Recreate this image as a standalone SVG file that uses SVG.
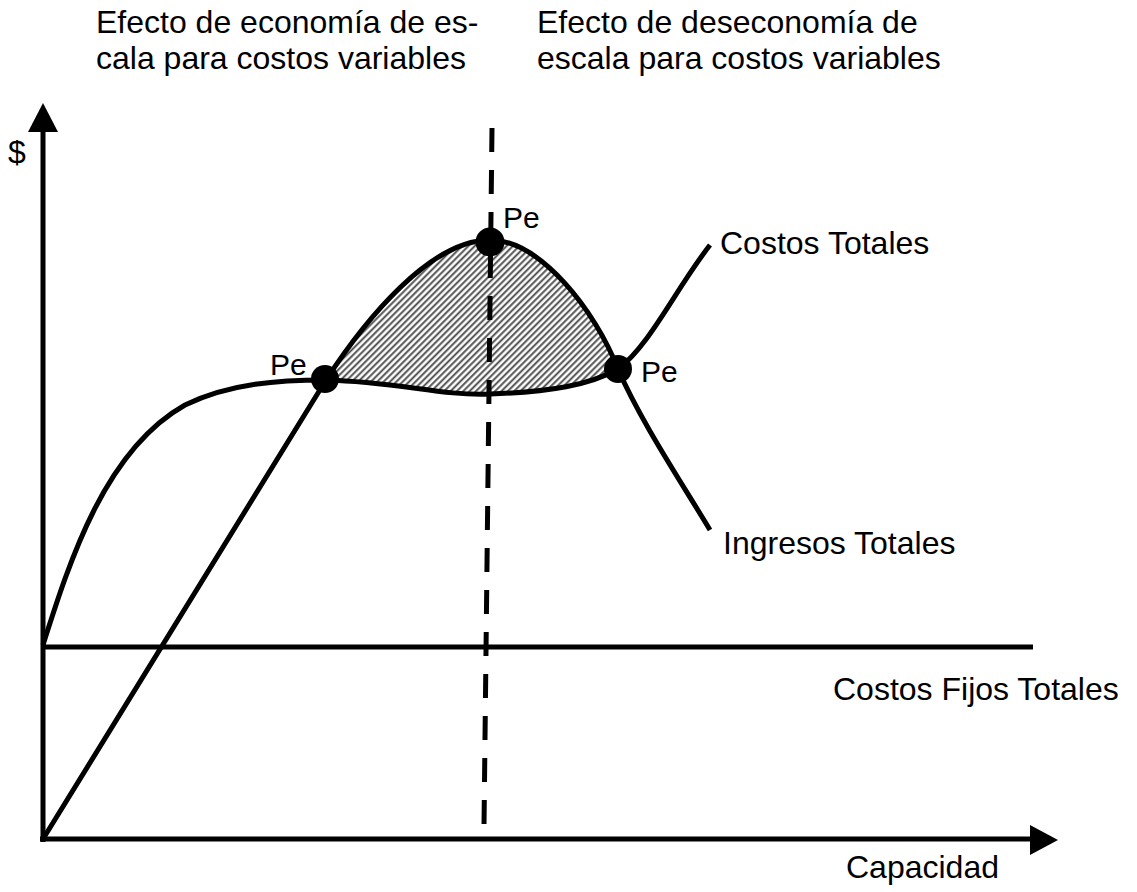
<svg xmlns="http://www.w3.org/2000/svg" width="1137" height="892" viewBox="0 0 1137 892">
<style>
text{font-family:"Liberation Sans",Arial,sans-serif;font-size:32px;fill:#000}
text.pe{font-size:30px}
.ln{fill:none;stroke:#000;stroke-width:5}
.dot{fill:#000}
</style>
<defs>
<pattern id="hatch" patternUnits="userSpaceOnUse" width="4.5" height="4.5" patternTransform="rotate(45)">
<rect width="4.5" height="4.5" fill="#fff"/>
<line x1="1.2" y1="0" x2="1.2" y2="4.5" stroke="#4a4a4a" stroke-width="1.9"/>
</pattern>
</defs>
<rect width="1137" height="892" fill="#fff"/>
<g id="titles">
<text x="96" y="33">Efecto de economía de es-</text>
<text x="96" y="69">cala para costos variables</text>
<text x="537" y="33">Efecto de deseconomía de</text>
<text x="537" y="69">escala para costos variables</text>
</g>
<g id="profit-area">
<path d="M326,380 C365,320 430,240 490,240 C540,240 595,310 618,369 C590,385 550,392 490,394 C440,396 400,382 326,380 Z" fill="url(#hatch)"/>
</g>
<g id="axes">
<line class="ln" x1="43" y1="842" x2="43" y2="128"/>
<polygon points="43,103 28,132 58,132"/>
<line class="ln" x1="40" y1="839" x2="1032" y2="839"/>
<polygon points="1058,840 1030,825 1030,855"/>
<text x="8" y="163">$</text>
<text x="846" y="878">Capacidad</text>
</g>
<g id="connectors">
<line id="fixed-costs" class="ln" x1="43" y1="647" x2="1033" y2="647"/>
<line id="divider" class="ln" x1="492" y1="128" x2="484" y2="826" stroke-dasharray="24 18"/>
<path id="total-costs" class="ln" d="M43,645 C70,560 105,450 185,405 C230,383 280,380 326,380 C400,382 440,396 490,394 C550,392 590,385 618,369 C650,345 675,290 710,245"/>
<path id="total-revenue" class="ln" d="M43,839 L326,380 C365,320 430,240 490,240 C540,240 595,310 618,369 C640,420 680,480 710,530"/>
</g>
<g id="pe-left"><circle class="dot" cx="325" cy="379" r="14"/><text class="pe" x="270" y="375">Pe</text></g>
<g id="pe-top"><circle class="dot" cx="490" cy="242" r="14.5"/><text class="pe" x="503" y="228">Pe</text></g>
<g id="pe-right"><circle class="dot" cx="618" cy="369" r="14"/><text class="pe" x="641" y="382">Pe</text></g>
<g id="labels">
<text x="720" y="254">Costos Totales</text>
<text x="723" y="554">Ingresos Totales</text>
<text x="833" y="700">Costos Fijos Totales</text>
</g>
</svg>
